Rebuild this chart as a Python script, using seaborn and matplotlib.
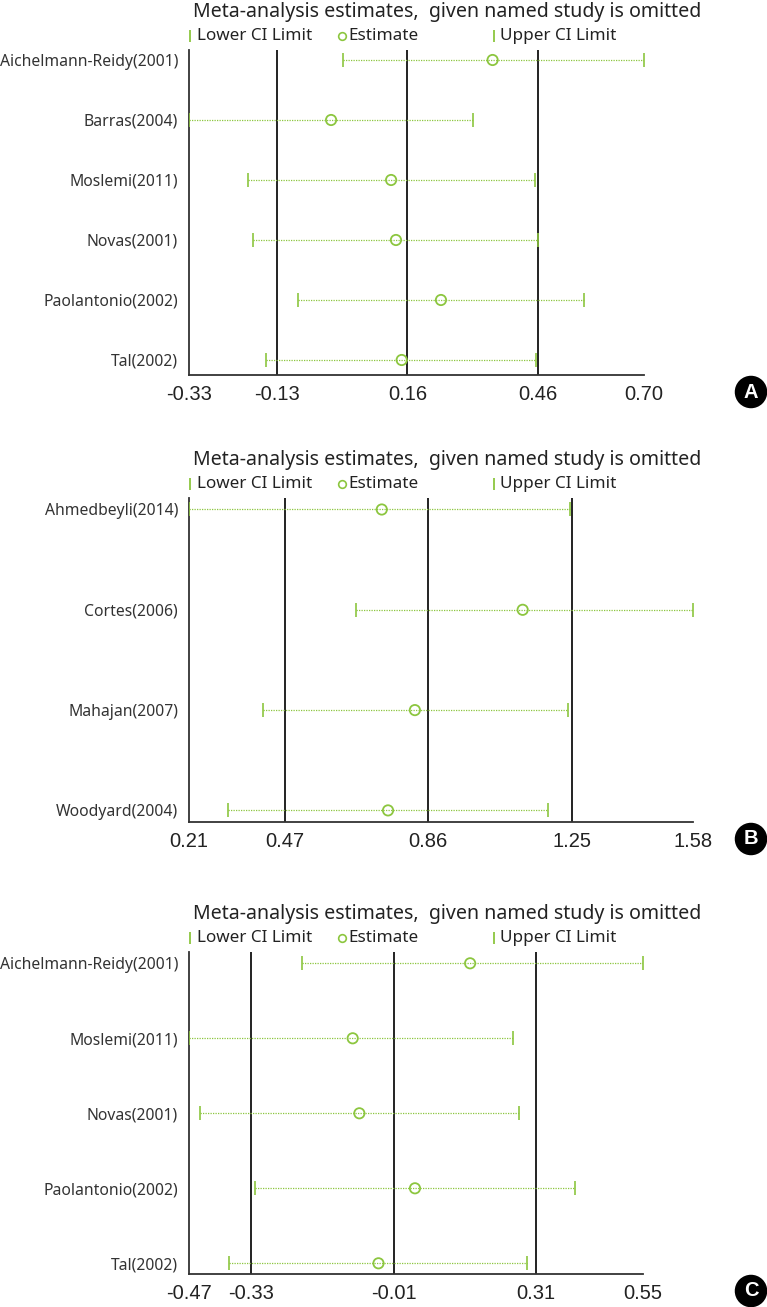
import matplotlib
matplotlib.use("Agg")
import matplotlib.pyplot as plt
from matplotlib.lines import Line2D
import seaborn as sns
import pandas as pd

# Panel A data
studies_a = ["Aichelmann-Reidy(2001)", "Barras(2004)", "Moslemi(2011)",
             "Novas(2001)", "Paolantonio(2002)", "Tal(2002)"]
lower_a = [0.02, -0.33, -0.197, -0.186, -0.082, -0.156]
est_a = [0.358, -0.008, 0.128, 0.139, 0.241, 0.152]
upper_a = [0.70, 0.314, 0.455, 0.462, 0.565, 0.456]
ref_a = [-0.13, 0.165, 0.46]
ticks_a = [-0.33, -0.13, 0.165, 0.46, 0.70]
ticklabels_a = ["-0.33", "-0.13", "0.16", "0.46", "0.70"]

# Panel B data
studies_b = ["Ahmedbeyli(2014)", "Cortes(2006)", "Mahajan(2007)", "Woodyard(2004)"]
lower_b = [0.21, 0.663, 0.410, 0.315]
est_b = [0.734, 1.117, 0.824, 0.751]
upper_b = [1.247, 1.58, 1.241, 1.185]
ref_b = [0.47, 0.86, 1.25]
ticks_b = [0.21, 0.47, 0.86, 1.25, 1.58]
ticklabels_b = ["0.21", "0.47", "0.86", "1.25", "1.58"]

# Panel C data
studies_c = ["Aichelmann-Reidy(2001)", "Moslemi(2011)", "Novas(2001)",
             "Paolantonio(2002)", "Tal(2002)"]
lower_c = [-0.217, -0.47, -0.446, -0.321, -0.380]
est_c = [0.162, -0.102, -0.087, 0.038, -0.044]
upper_c = [0.55, 0.258, 0.272, 0.398, 0.291]
ref_c = [-0.33, -0.01, 0.31]
ticks_c = [-0.47, -0.33, -0.01, 0.31, 0.55]
ticklabels_c = ["-0.47", "-0.33", "-0.01", "0.31", "0.55"]

title = "Meta-analysis estimates,  given named study is omitted"
legend_labels = ["Lower CI Limit", "Estimate", "Upper CI Limit"]

GREEN = "#8cc63f"
W, H = 767, 1307

sns.set_style("white")
plt.rcParams["font.family"] = ["Noto Sans", "DejaVu Sans"]

fig = plt.figure(figsize=(W / 100, H / 100), dpi=100)


def fx(px):
    return px / W


def fy(py):
    return 1 - py / H


def draw_panel(studies, lower, est, upper, ref, ticks, ticklabels,
               left, right, top, bottom, row0, step, letter):
    ax = fig.add_axes([fx(left), fy(bottom), (right - left) / W, (bottom - top) / H])
    n = len(studies)
    df = pd.DataFrame({"study": studies, "row": range(n),
                       "lower": lower, "est": est, "upper": upper})

    for x in ref:
        ax.axvline(x, color="#111111", lw=1.3, zorder=1)

    ax.hlines(df["row"], df["lower"], df["upper"], color=GREEN, lw=0.9,
              linestyles=(0, (1, 1)), zorder=2)
    sns.scatterplot(data=df, x="lower", y="row", marker="|", s=100, color=GREEN,
                    linewidth=1.2, ax=ax, zorder=3)
    sns.scatterplot(data=df, x="upper", y="row", marker="|", s=100, color=GREEN,
                    linewidth=1.2, ax=ax, zorder=3)
    sns.scatterplot(data=df, x="est", y="row", marker="o", s=55, facecolor="none",
                    edgecolor=GREEN, linewidth=1.3, ax=ax, zorder=4)

    ax.set_xlim(ticks[0], ticks[-1])
    ax.set_ylim((bottom - row0) / step, (top - row0) / step)
    ax.set_yticks(range(n))
    ax.set_yticklabels(studies, fontsize=11.3, color="#333333")
    ax.set_xticks(ticks)
    ax.set_xticklabels(ticklabels, fontsize=14.5, color="#222222",
                       family="Liberation Sans")
    ax.tick_params(axis="x", direction="in", length=5, width=1.2, pad=7,
                   color="#333333")
    ax.tick_params(axis="y", length=0, pad=8)
    ax.set_xlabel("")
    ax.set_ylabel("")
    sns.despine(ax=ax)
    for s in ["left", "bottom"]:
        ax.spines[s].set_color("#333333")
        ax.spines[s].set_linewidth(1.3)

    # title and legend above the plot area
    fig.text(fx(193), fy(top - 38), title, fontsize=14.1, color="#222222",
             ha="left", va="center")
    ly = fy(top - 14)
    marks = [(190, "|", 197), (342, "o", 348), (494, "|", 500)]
    for (mx, mk, tx), lab in zip(marks, legend_labels):
        if mk == "o":
            fig.add_artist(Line2D([fx(mx)], [ly], marker="o", ms=5.5, mfc="none",
                                  mec=GREEN, mew=1.2, transform=fig.transFigure))
        else:
            fig.add_artist(Line2D([fx(mx)], [ly], marker="|", ms=8, mec=GREEN,
                                  mew=1.3, transform=fig.transFigure))
        fig.text(fx(tx), ly, lab, fontsize=12.3, color="#222222",
                 ha="left", va="center")

    fig.text(fx(751), fy(bottom + 17), letter, fontsize=14.5, fontweight="bold",
             color="white", ha="center", va="center", family="Liberation Sans",
             bbox=dict(boxstyle="circle,pad=0.3", fc="black", ec="black"))
    return ax


draw_panel(studies_a, lower_a, est_a, upper_a, ref_a, ticks_a, ticklabels_a,
           189, 643.5, 50, 375, 60, 60, "A")
draw_panel(studies_b, lower_b, est_b, upper_b, ref_b, ticks_b, ticklabels_b,
           189, 693, 498, 822, 509.5, 100.3, "B")
draw_panel(studies_c, lower_c, est_c, upper_c, ref_c, ticks_c, ticklabels_c,
           189, 642.7, 952, 1274, 963.3, 75, "C")

fig.savefig("out.png", dpi=100)
